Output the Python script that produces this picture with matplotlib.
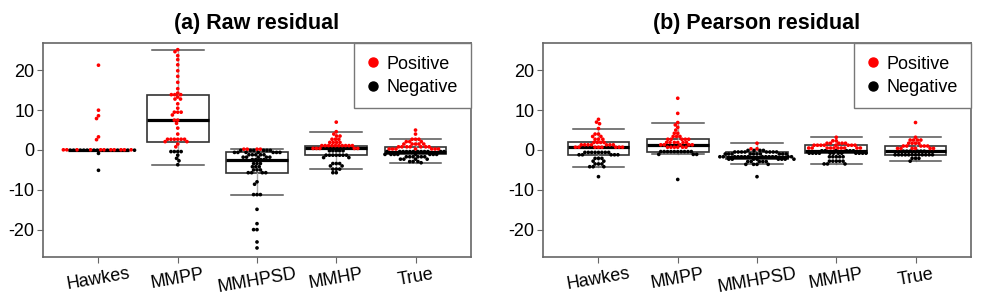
import numpy as np
import matplotlib.pyplot as plt
from matplotlib.lines import Line2D

plt.rcParams['font.family'] = ['Liberation Sans', 'DejaVu Sans']
plt.rcParams['axes.unicode_minus'] = False

models = ['Hawkes', 'MMPP', 'MMHPSD', 'MMHP', 'True']

# (a) raw residuals, one list per model
raw_hawkes = [-0.85, 21.3, 10.0, 8.6, 7.9, 3.3, 2.6, -5.1,
              -0.05, 0.05, -0.05, 0.05, 0.05, -0.05, -0.05, 0.05, -0.05, 0.05, -0.05,
              -0.05, 0.05, 0.05, -0.05, 0.05, -0.05, -0.05, 0.05, 0.05, 0.05, -0.05]
raw_mmpp = [25.2, 24.7, 23.7, 22.7, 21.4, 19.9, 18.5, 17.0, 15.4, 14.3,
            13.9, 13.9, 13.9, 13.3, 12.8, 12.8, 11.6, 10.5, 9.5, 9.5, 9.5, 8.8,
            7.5, 7.5, 6.7, 5.5, 4.0, 2.7, 2.7, 2.7, 2.7, 2.7, 2.7, 2.1, 2.1,
            1.5, 0.8, -0.4, -0.4, -0.4, -0.4, -1.3, -2.1, -2.7, -3.7]
raw_mmhpsd = [0.2, -0.1, 0.2, -0.1, -0.1, 0.2, -0.1, 0.2, -0.1, -0.1,
              -0.6, -0.6, -0.6, -0.6, -0.6, -0.6, -0.6,
              -1.2, -1.2, -1.2, -1.2, -1.2, -1.8, -1.8, -1.8, -1.8, -1.8,
              -2.4, -2.4, -2.4, -2.4, -3.4, -3.4, -3.4, -4.2, -4.2, -4.2,
              -5.0, -5.0, -5.0, -5.7, -5.7, -5.7, -5.7, -8.0, -8.6,
              -11.2, -11.2, -11.2, -14.9, -18.5, -20.0, -20.0, -23.1, -24.6]
raw_mmhp = [7.0, 4.6, 4.0, 3.5, 3.5, 2.7, 2.7, 2.7, 1.9, 1.9, 1.9, 1.9,
            1.1, 1.1, 1.1, 1.1, 1.1, 1.1, 1.1, 1.1, 1.1, 1.1,
            0.4, 0.4, 0.4, 0.4, 0.4, -0.2, -0.2, -0.2, -0.2, -0.2,
            -1.3, -1.3, -1.3, -1.3, -1.3, -1.3, -1.3, -1.9, -1.9,
            -3.4, -3.4, -3.4, -4.0, -4.0, -4.8, -4.8, -4.8, -5.7, -5.7]
raw_true = [5.0, 4.0, 2.7, 2.7, 2.7, 2.1, 2.1, 2.1, 1.5, 1.5, 1.5, 1.5, 1.5,
            0.8, 0.8, 0.8, 0.8, 0.8, 0.8, 0.8,
            0.25, 0.25, 0.25, 0.25, 0.25, 0.25, 0.25,
            -0.4, -0.4, -0.4, -0.4, -0.4, -0.4, -0.4, -0.4, -0.4, -0.4, -0.4, -0.4,
            -1.1, -1.1, -1.1, -1.1, -1.1, -1.1, -1.1, -1.1,
            -1.7, -1.7, -1.7, -1.7, -1.7, -1.7, -2.3, -2.3, -2.3, -2.3,
            -2.9, -2.9, -2.9, -3.2]

# (b) Pearson residuals
pear_hawkes = [7.7, 7.0, 6.6, 5.4, 4.0, 4.0, 3.4, 3.4, 2.7, 2.7, 2.7,
               1.9, 1.9, 1.9, 1.9, 1.3, 1.3, 1.3, 1.3, 1.3, 1.3, 1.3,
               0.7, 0.7, 0.7, 0.7, 0.7, 0.7, 0.7, 0.7,
               -0.6, -0.6, -0.6, -0.6, -0.6, -0.6, -0.6, -0.6,
               -1.2, -1.2, -1.2, -1.2, -1.2, -2.1, -2.1, -2.1, -2.8, -2.8,
               -3.5, -3.5, -3.5, -4.2, -4.2, -4.2, -6.7]
pear_mmpp = [13.0, 9.2, 6.9, 6.3, 5.7, 5.0, 4.2, 4.2, 3.4, 3.4, 3.4,
             2.7, 2.7, 2.7, 2.7, 2.7, 1.9, 1.9, 1.9, 1.9, 1.9, 1.9,
             1.3, 1.3, 1.3, 1.3, 1.3, 0.7, 0.7, 0.7, 0.7, 0.7, 0.7,
             -0.4, -0.4, -0.4, -0.4, -0.4, -0.4, -0.4, -0.4, -0.4, -0.4,
             -1.1, -1.1, -1.1, -7.4]
pear_mmhpsd = [1.7, 0.3, -0.1, -0.1, 0.3, -0.1, -0.1,
               -0.5, -0.5, -0.5, -0.5, -0.5, -0.5, -0.5, -0.5,
               -1.0, -1.0, -1.0, -1.0, -1.0, -1.0, -1.0, -1.0, -1.0, -1.0,
               -1.7, -1.7, -1.7, -1.7, -1.7, -1.7, -1.7, -1.7, -1.7, -1.7, -1.7, -1.7, -1.7, -1.7,
               -2.3, -2.3, -2.3, -2.3, -2.3, -2.3, -2.3, -2.3,
               -2.9, -2.9, -2.9, -2.9, -2.9, -3.6, -3.6, -3.6, -3.6, -6.7]
pear_mmhp = [3.2, 2.3, 2.3, 1.7, 1.7, 1.7, 1.7, 1.7,
             1.2, 1.2, 1.2, 1.2, 1.2, 1.2, 1.2, 1.2,
             0.5, 0.5, 0.5, 0.5, 0.5, 0.5, 0.5, 0.5, 0.5, 0.5,
             -0.2, -0.2, -0.2, -0.2, -0.2, -0.2,
             -0.8, -0.8, -0.8, -0.8, -0.8, -0.8, -0.8, -0.8, -0.8, -0.8, -0.8, -0.8,
             -1.7, -1.7, -1.7, -1.7, -1.7, -2.8, -2.8, -2.8, -2.8, -2.8,
             -3.5, -3.5, -3.5]
pear_true = [6.9, 3.2, 2.5, 2.5, 2.5, 2.5, 1.7, 1.7, 1.7, 1.7,
             1.0, 1.0, 1.0, 1.0, 1.0, 0.4, 0.4, 0.4, 0.4, 0.4, 0.4,
             -0.3, -0.3, -0.3, -0.3, -0.3, -0.3,
             -1.2, -1.2, -1.2, -1.2, -1.2, -1.2, -1.2, -1.2, -1.2, -1.2, -1.2, -1.2,
             -2.1, -2.1, -2.1, -2.8]

raw = [raw_hawkes, raw_mmpp, raw_mmhpsd, raw_mmhp, raw_true]
pearson = [pear_hawkes, pear_mmpp, pear_mmhpsd, pear_mmhp, pear_true]
titles = ['(a) Raw residual', '(b) Pearson residual']

YLIM = (-26.9, 26.9)
XLIM = (0.3, 5.7)
DOT = 3.4  # swarm spacing in pixels


def swarm(vals, sx, sy, d=DOT):
    # simple beeswarm: each point goes to the free spot closest to the centre
    placed = []
    xs = []
    for v in vals:
        y = v * sy
        cands = [0.0]
        for px, py in placed:
            dy = abs(py - y)
            if dy < d:
                dx = np.sqrt(d * d - dy * dy)
                cands += [px - dx, px + dx]
        cands.sort(key=abs)
        for c in cands:
            if all((c - px) ** 2 + (y - py) ** 2 >= d * d - 1e-6 for px, py in placed):
                break
        placed.append((c, y))
        xs.append(c / sx)
    return np.array(xs)


fig = plt.figure(figsize=(10, 3), dpi=100)
lefts = [0.043, 0.543]
for k, data in enumerate([raw, pearson]):
    ax = fig.add_axes([lefts[k], 0.143, 0.428, 0.714])
    ax.set_xlim(XLIM)
    ax.set_ylim(YLIM)
    pos = ax.get_position()
    sx = pos.width * 1000 / (XLIM[1] - XLIM[0])
    sy = pos.height * 300 / (YLIM[1] - YLIM[0])

    ax.boxplot(data, positions=range(1, 6), widths=0.78, showfliers=False,
               patch_artist=True, capwidths=0.65,
               boxprops=dict(facecolor='white', edgecolor='#333333', linewidth=1.2),
               medianprops=dict(color='black', linewidth=2.3),
               whiskerprops=dict(color='#aaaaaa', linewidth=1),
               capprops=dict(color='#555555', linewidth=1.1), zorder=1)

    for i, vals in enumerate(data):
        vals = np.array(vals)
        xs = i + 1 + swarm(vals, sx, sy)
        cols = np.where(vals > 0, 'red', 'black')
        ax.scatter(xs, vals, s=7, c=cols, linewidths=0, zorder=3)

    ax.set_xticks(range(1, 6))
    ax.set_xticklabels(models, rotation=10, fontsize=13)
    ax.set_yticks([-20, -10, 0, 10, 20])
    ax.tick_params(axis='y', labelsize=13, length=4, color='#666666', pad=2)
    ax.tick_params(axis='x', length=4, color='#666666', pad=2)
    for sp in ax.spines.values():
        sp.set_color('#666666')
        sp.set_linewidth(1.2)
    ax.set_title(titles[k], fontsize=15.5, fontweight='bold', pad=10)

    handles = [Line2D([], [], marker='o', color='red', linestyle='', markersize=6.5),
               Line2D([], [], marker='o', color='black', linestyle='', markersize=6.5)]
    leg = ax.legend(handles, ['Positive', 'Negative'], loc='upper right',
                    borderaxespad=0, fancybox=False, edgecolor='#777777',
                    fontsize=13, handletextpad=0.35, borderpad=0.7,
                    labelspacing=0.35, handlelength=0.8, framealpha=1)
    leg.get_frame().set_linewidth(1.0)

fig.savefig('out.png', dpi=100)
